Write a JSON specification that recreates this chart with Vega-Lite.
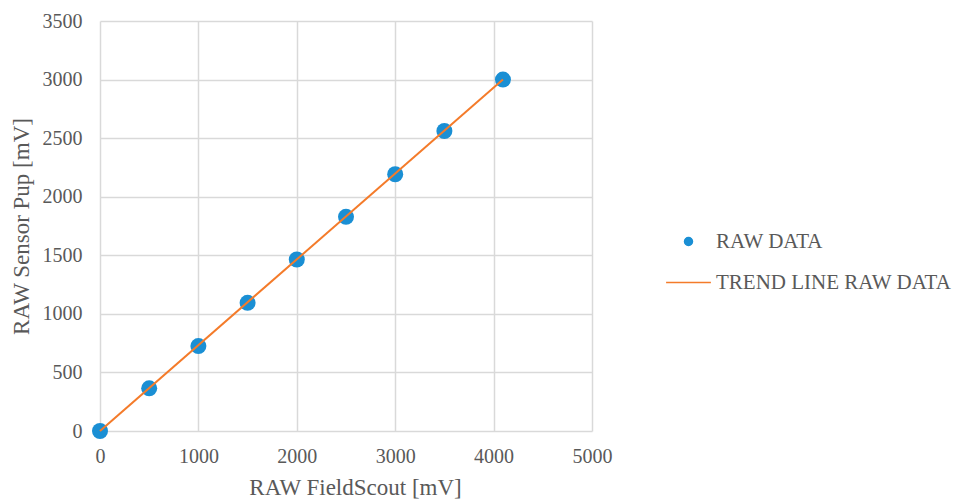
{
  "$schema": "https://vega.github.io/schema/vega-lite/v6.json",
  "autosize": "none",
  "padding": {"left": 100, "top": 21, "right": 363, "bottom": 69},
  "width": 492,
  "height": 410,
  "background": "white",
  "config": {
    "font": "Liberation Serif, Times New Roman, serif",
    "view": {"stroke": null},
    "axis": {
      "labelFont": "Liberation Serif, Times New Roman, serif",
      "titleFont": "Liberation Serif, Times New Roman, serif",
      "labelColor": "#595959",
      "titleColor": "#595959",
      "labelFontSize": 20,
      "titleFontSize": 23,
      "titleFontWeight": "normal",
      "gridColor": "#d9d9d9",
      "gridWidth": 1.5,
      "domain": false,
      "ticks": false,
      "labelFlush": false
    },
    "legend": {
      "labelFont": "Liberation Serif, Times New Roman, serif",
      "labelColor": "#595959",
      "labelFontSize": 21,
      "labelLimit": 400
    }
  },
  "datasets": {
    "raw": [
      {"x": 0, "y": 0, "series": "RAW DATA"},
      {"x": 500, "y": 364, "series": "RAW DATA"},
      {"x": 1000, "y": 725, "series": "RAW DATA"},
      {"x": 1500, "y": 1094, "series": "RAW DATA"},
      {"x": 2000, "y": 1464, "series": "RAW DATA"},
      {"x": 2500, "y": 1828, "series": "RAW DATA"},
      {"x": 3000, "y": 2192, "series": "RAW DATA"},
      {"x": 3500, "y": 2561, "series": "RAW DATA"},
      {"x": 4095, "y": 3000, "series": "RAW DATA"}
    ],
    "trend": [
      {"x": 0, "y": 0, "series": "TREND LINE RAW DATA"},
      {"x": 4095, "y": 3000, "series": "TREND LINE RAW DATA"}
    ]
  },
  "encoding": {
    "x": {
      "field": "x", "type": "quantitative",
      "scale": {"domain": [0, 5000], "nice": false},
      "axis": {"values": [0, 1000, 2000, 3000, 4000, 5000], "format": "d", "title": "RAW FieldScout [mV]", "labelPadding": 15, "titlePadding": 10, "titleX": 255}
    },
    "y": {
      "field": "y", "type": "quantitative",
      "scale": {"domain": [0, 3500], "nice": false},
      "axis": {"values": [0, 500, 1000, 1500, 2000, 2500, 3000, 3500], "format": "d", "title": "RAW Sensor Pup [mV]", "labelPadding": 18, "titlePadding": 9}
    }
  },
  "layer": [
    {
      "data": {"name": "raw"},
      "mark": {"type": "point", "filled": true, "opacity": 1, "size": 256},
      "encoding": {
        "color": {
          "field": "series", "type": "nominal",
          "scale": {"domain": ["RAW DATA", "TREND LINE RAW DATA"], "range": ["#1a8fd4", "#f47b2a"]},
          "legend": {
            "title": null,
            "orient": "none",
            "legendX": 578,
            "legendY": 210,
            "rowPadding": 19,
            "labelOffset": 17,
            "symbolOffset": 0,
            "symbolSize": 64,
            "encode": {
              "symbols": {"update": {"stroke": {"scale": "color", "field": "value"}, "strokeWidth": {"value": 2}, "opacity": {"value": 1}}}
            }
          }
        },
        "shape": {
          "field": "series", "type": "nominal",
          "scale": {"domain": ["RAW DATA", "TREND LINE RAW DATA"], "range": ["circle", "M-5.6,0L5.6,0"]},
          "legend": {"title": null}
        }
      }
    },
    {
      "data": {"name": "trend"},
      "mark": {"type": "line", "strokeWidth": 2},
      "encoding": {
        "color": {"field": "series", "type": "nominal"}
      }
    }
  ]
}
